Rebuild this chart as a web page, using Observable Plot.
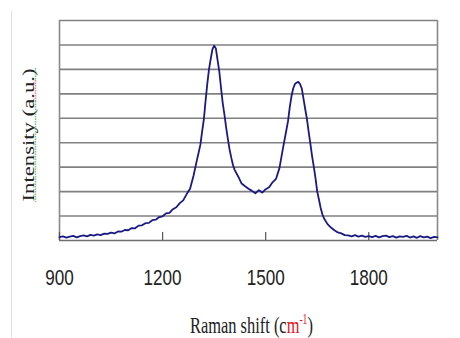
<!DOCTYPE html>
<html>
<head>
<meta charset="utf-8">
<script src="https://cdn.jsdelivr.net/npm/d3@7"></script>
<script src="https://cdn.jsdelivr.net/npm/@observablehq/plot@0.6"></script>
<style>
  html, body { margin: 0; padding: 0; background: #fff; }
  #wrap { position: relative; width: 460px; height: 338px; overflow: hidden; }
  #edge { position: absolute; left: 11px; top: 11px; bottom: 0; width: 0; border-left: 1px solid #e2e2e2; }
</style>
</head>
<body>
<div id="wrap"><div id="edge"></div></div>
<script>
const ramanShift = [
  900, 910, 920, 930, 940, 950, 960, 970, 980, 990,
  1000, 1010, 1020, 1030, 1040, 1050, 1060, 1070, 1080, 1090,
  1100, 1110, 1120, 1130, 1140, 1150, 1160, 1170, 1180, 1190,
  1200, 1210, 1220, 1230, 1240, 1250, 1260, 1270, 1280, 1290,
  1300, 1305, 1310, 1315, 1320, 1325, 1330, 1335, 1340, 1345,
  1350, 1355, 1360, 1365, 1370, 1375, 1380, 1385, 1390, 1395,
  1400, 1405, 1410, 1420, 1430, 1440, 1450, 1460, 1470, 1480,
  1490, 1500, 1510, 1520, 1530, 1540, 1550, 1560, 1565, 1570,
  1575, 1580, 1585, 1590, 1595, 1600, 1605, 1610, 1615, 1620,
  1625, 1630, 1635, 1640, 1645, 1650, 1655, 1660, 1665, 1670,
  1680, 1690, 1700, 1710, 1720, 1730, 1740, 1750, 1760, 1770,
  1780, 1790, 1800, 1810, 1820, 1830, 1840, 1850, 1860, 1870,
  1880, 1890, 1900, 1910, 1920, 1930, 1940, 1950, 1960, 1970,
  1980, 1990, 2000
];
const intensity = [
  0.14, 0.17, 0.12, 0.16, 0.19, 0.13, 0.18, 0.21, 0.17, 0.23,
  0.20, 0.25, 0.22, 0.28, 0.27, 0.32, 0.29, 0.37, 0.36, 0.43,
  0.42, 0.51, 0.50, 0.61, 0.62, 0.71, 0.72, 0.83, 0.85, 0.96,
  0.99, 1.11, 1.13, 1.28, 1.36, 1.53, 1.64, 1.90, 2.12, 2.65,
  3.30, 3.60, 3.92, 4.45, 4.95, 5.70, 6.40, 7.00, 7.42, 7.82,
  7.97, 7.86, 7.38, 6.92, 6.25, 5.62, 5.15, 4.62, 4.15, 3.72,
  3.38, 3.08, 2.88, 2.62, 2.33, 2.22, 2.12, 2.03, 1.93, 2.06,
  1.96, 2.10, 2.18, 2.38, 2.52, 2.96, 3.75, 4.50, 4.88, 5.45,
  5.90, 6.22, 6.40, 6.46, 6.49, 6.40, 6.22, 5.80, 5.38, 4.98,
  4.45, 3.96, 3.45, 3.02, 2.55, 2.00, 1.68, 1.33, 1.07, 0.90,
  0.67, 0.53, 0.42, 0.33, 0.29, 0.22, 0.21, 0.17, 0.22, 0.16,
  0.20, 0.15, 0.18, 0.14, 0.19, 0.13, 0.18, 0.20, 0.14, 0.18,
  0.12, 0.17, 0.15, 0.19, 0.12, 0.17, 0.11, 0.18, 0.13, 0.16,
  0.10, 0.15, 0.13
];
const xTicks = [900, 1200, 1500, 1800];
const gridLevels = [1, 2, 3, 4, 5, 6, 7, 8, 9];
const xLabelParts = ["Raman shift (c", "m", "-1", ")"];
const yLabel = "Intensity (a.u.)";

const spectrum = ramanShift.map((x, i) => ({x, y: intensity[i]}));

const chart = Plot.plot({
  width: 460,
  height: 338,
  marginLeft: 59,
  marginRight: 23,
  marginTop: 20,
  marginBottom: 98,
  style: {background: "#fff", color: "#222"},
  x: {domain: [900, 2000], axis: null},
  y: {domain: [0, 9], axis: null},
  marks: [
    Plot.ruleY(gridLevels, {stroke: "#808080", strokeWidth: 1.6}),
    Plot.ruleY([0], {stroke: "#707070", strokeWidth: 1.6}),
    Plot.ruleX([900, 2000], {stroke: "#8a8a8a", strokeWidth: 1.6}),
    Plot.ruleX(xTicks, {y1: 0, y2: 0.33, stroke: "#555", strokeWidth: 1.2}),
    Plot.axisX(xTicks, {tickSize: 0, tickPadding: 29, label: null, tickFormat: d => String(d),
      fontSize: 22, fontFamily: "Liberation Sans, Arial, sans-serif", fill: "#222"}),
    Plot.line(spectrum, {x: "x", y: "y", stroke: "#1a1a85", strokeWidth: 1.8, strokeLinejoin: "round"})
  ]
});

document.getElementById("wrap").appendChild(chart);
const svg = d3.select(chart);

// compress tick labels horizontally (the original is vertically stretched)
svg.selectAll('g[aria-label="x-axis tick label"] text').each(function() {
  const n = this.textContent.length;
  d3.select(this).attr("textLength", n * 9.5).attr("lengthAdjust", "spacingAndGlyphs");
});

// x axis title: one text, squeezed horizontally with a transform
const serif = "Liberation Serif, Times New Roman, serif";
const xg = svg.append("g");
const xt = xg.append("text")
  .attr("x", 0).attr("y", 0)
  .attr("text-anchor", "start")
  .attr("font-family", serif)
  .attr("font-size", 24)
  .attr("fill", "#222");
xt.append("tspan").text(xLabelParts[0]);
xt.append("tspan").attr("fill", "#e8101a").text(xLabelParts[1]);
xt.append("tspan").attr("fill", "#e8101a").attr("font-size", 14).attr("dy", -9).text(xLabelParts[2]);
xt.append("tspan").attr("dy", 9).text(xLabelParts[3]);
const natural = xt.node().getComputedTextLength() || 180;
xg.attr("transform", `translate(190,333) scale(${123 / natural},1)`);

// y axis title
svg.append("text")
  .attr("transform", "translate(34,135) rotate(-90)")
  .attr("text-anchor", "middle")
  .attr("font-family", serif)
  .attr("font-size", 16.5)
  .attr("fill", "#222")
  .attr("textLength", 133)
  .attr("lengthAdjust", "spacingAndGlyphs")
  .text(yLabel);

// spell-check squiggles under the y title
const squig = [
  {y1: 68, y2: 80, c: "#7cc47c"},
  {y1: 80, y2: 101, c: "#f08080"},
  {y1: 101, y2: 202, c: "#7cc47c"}
];
for (const s of squig) {
  svg.append("line")
    .attr("x1", 35.5).attr("x2", 35.5).attr("y1", s.y1).attr("y2", s.y2)
    .attr("stroke", s.c).attr("stroke-width", 1.5).attr("stroke-dasharray", "1.5,1");
}
</script>
</body>
</html>
